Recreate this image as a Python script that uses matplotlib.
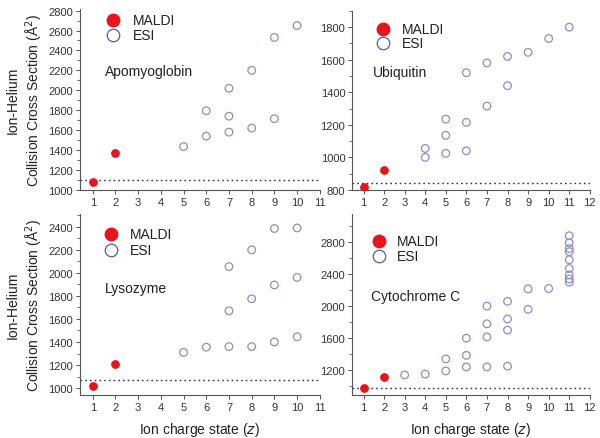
import matplotlib
matplotlib.use("Agg")
import matplotlib.pyplot as plt
from matplotlib.ticker import MultipleLocator

plt.rcParams['font.family'] = ['Liberation Sans', 'DejaVu Sans']

# ---- data ----
apo_maldi_z = [1, 2]
apo_maldi_ccs = [1075, 1375]
apo_esi_z = [5, 6, 6, 7, 7, 7, 8, 8, 9, 9, 10]
apo_esi_ccs = [1435, 1540, 1795, 1580, 1740, 2020, 1620, 2200, 1715, 2530, 2650]
apo_line = 1095

ubi_maldi_z = [1, 2]
ubi_maldi_ccs = [820, 920]
ubi_esi_z = [4, 4, 5, 5, 5, 6, 6, 6, 7, 7, 8, 8, 9, 10, 11]
ubi_esi_ccs = [1000, 1055, 1025, 1135, 1235, 1040, 1215, 1520, 1315, 1580, 1440, 1620, 1645, 1730, 1800]
ubi_line = 845

lys_maldi_z = [1, 2]
lys_maldi_ccs = [1015, 1205]
lys_esi_z = [5, 6, 7, 7, 7, 8, 8, 8, 9, 9, 9, 10, 10, 10]
lys_esi_ccs = [1310, 1355, 1360, 1670, 2055, 1360, 1775, 2200, 1400, 1895, 2385, 1445, 1960, 2390]
lys_line = 1070

cyt_maldi_z = [1, 2]
cyt_maldi_ccs = [975, 1110]
cyt_esi_z = [3, 4, 5, 5, 6, 6, 6, 7, 7, 7, 7, 8, 8, 8, 8, 9, 9, 10,
             11, 11, 11, 11, 11, 11, 11, 11, 11]
cyt_esi_ccs = [1140, 1150, 1190, 1340, 1240, 1385, 1600, 1240, 1615, 1780, 2000,
               1250, 1700, 1840, 2060, 1960, 2215, 2220,
               2300, 2340, 2390, 2470, 2580, 2680, 2720, 2790, 2880]
cyt_line = 975

names = ["Apomyoglobin", "Ubiquitin", "Lysozyme", "Cytochrome C"]
legend_labels = ["MALDI", "ESI"]

red = '#e8141c'
purple = '#8c8ccc'
legend_purple = '#5858a8'

fig = plt.figure(figsize=(6.0, 4.39), dpi=100)

positions = [
    [0.133, 0.565, 0.400, 0.412],
    [0.587, 0.565, 0.396, 0.408],
    [0.133, 0.098, 0.400, 0.412],
    [0.587, 0.098, 0.396, 0.412],
]
panels = [
    (apo_maldi_z, apo_maldi_ccs, apo_esi_z, apo_esi_ccs, apo_line, (0.43, 11), (1000, 2815), 200, 100, range(1, 12)),
    (ubi_maldi_z, ubi_maldi_ccs, ubi_esi_z, ubi_esi_ccs, ubi_line, (0.45, 12), (800, 1900), 200, 100, range(1, 13)),
    (lys_maldi_z, lys_maldi_ccs, lys_esi_z, lys_esi_ccs, lys_line, (0.43, 11), (940, 2510), 200, 100, range(1, 12)),
    (cyt_maldi_z, cyt_maldi_ccs, cyt_esi_z, cyt_esi_ccs, cyt_line, (0.45, 12), (890, 3150), 400, 200, range(1, 13)),
]
# (name x, name y, legend marker x, legend y MALDI, legend y ESI, legend text x)
placements = [
    (0.104, 0.655, 0.1375, 0.94, 0.855, 0.22),
    (0.088, 0.66, 0.13, 0.90, 0.82, 0.21),
    (0.104, 0.59, 0.13, 0.89, 0.80, 0.21),
    (0.08, 0.55, 0.113, 0.85, 0.77, 0.19),
]

for i, (pos, pan, name, pl) in enumerate(zip(positions, panels, names, placements)):
    mz, mc, ez, ec, line, xl, yl, ymaj, ymin, xt = pan
    nx, ny, lx, ly1, ly2, tx = pl
    ax = fig.add_axes(pos)
    ax.axhline(line, color='#333333', linestyle=(0, (1.2, 2.2)), linewidth=1.0, zorder=1)
    ax.scatter(ez, ec, s=30, facecolors='none', edgecolors=purple, linewidths=0.9, zorder=3)
    ax.scatter(mz, mc, s=28, color=red, zorder=4)
    ax.set_xlim(*xl)
    ax.set_ylim(*yl)
    ax.set_xticks(list(xt))
    ax.yaxis.set_major_locator(MultipleLocator(ymaj))
    ax.yaxis.set_minor_locator(MultipleLocator(ymin))
    ax.spines['top'].set_visible(False)
    ax.spines['right'].set_visible(False)
    for s in ['left', 'bottom']:
        ax.spines[s].set_color('#555555')
        ax.spines[s].set_linewidth(0.8)
    ax.tick_params(axis='both', which='major', labelsize=8, length=3, width=0.7,
                   color='#555555', labelcolor='#333333', pad=2)
    ax.tick_params(axis='y', which='minor', length=2, width=0.6, color='#555555')
    ax.text(nx, ny, name, transform=ax.transAxes, fontsize=10, color='#222222',
            va='center', ha='left')
    # legend
    ax.plot([lx], [ly1], transform=ax.transAxes, marker='o', markersize=9,
            color=red, linestyle='none', clip_on=False, zorder=5)
    ax.plot([lx], [ly2], transform=ax.transAxes, marker='o', markersize=9,
            markerfacecolor='none', markeredgecolor=legend_purple, markeredgewidth=0.9,
            linestyle='none', clip_on=False, zorder=5)
    ax.text(tx, ly1, legend_labels[0], transform=ax.transAxes, fontsize=10,
            color='#222222', va='center', ha='left')
    ax.text(tx, ly2, legend_labels[1], transform=ax.transAxes, fontsize=10,
            color='#222222', va='center', ha='left')
    if i % 2 == 0:
        ax.set_ylabel("Ion-Helium\nCollision Cross Section (Å$^2$)", fontsize=10,
                      color='#222222', labelpad=2, linespacing=1.3)
    if i >= 2:
        ax.set_xlabel("Ion charge state ($\\it{z}$)", fontsize=10, color='#222222', labelpad=6)

fig.savefig("out.png", dpi=100)
